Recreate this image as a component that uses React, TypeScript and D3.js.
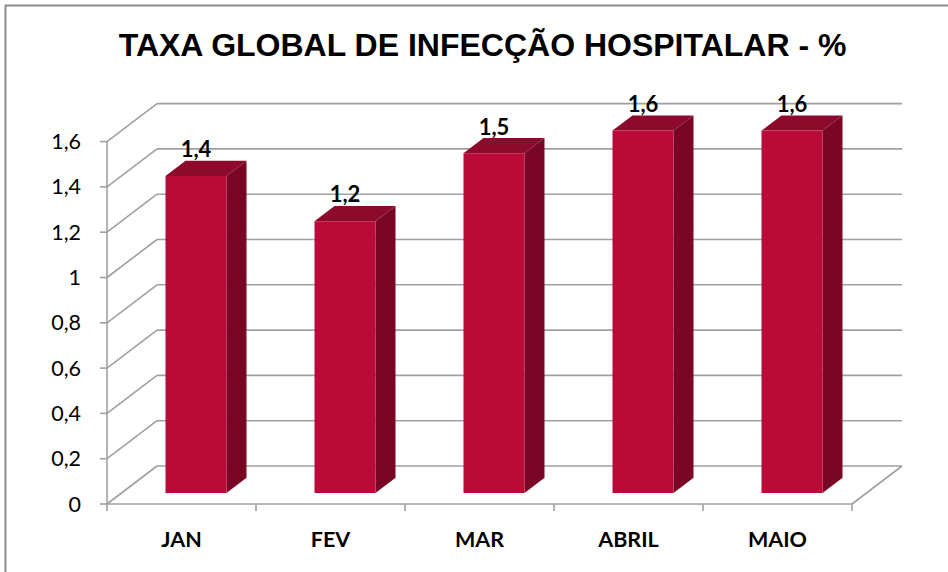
import React from "react";
import * as d3 from "d3";

const categories = ["JAN", "FEV", "MAR", "ABRIL", "MAIO"];
const values = [1.4, 1.2, 1.5, 1.6, 1.6];
const yTicks = [0, 0.2, 0.4, 0.6, 0.8, 1, 1.2, 1.4, 1.6];
const title = "TAXA GLOBAL DE INFECÇÃO HOSPITALAR - %";

const W = 948;
const H = 572;

export default function App() {
  const x0 = 107, x1 = 852;
  const y0 = 504;
  const depthX = 50, depthY = -38;

  const xScale = d3.scaleBand<string>().domain(categories).range([x0, x1]).paddingInner(0).paddingOuter(0);
  const yScale = d3.scaleLinear().domain([0, 1.6]).range([y0, y0 - 362.4]);

  const P = (x: number, v: number, z: number): [number, number] => [x + z * depthX, yScale(v) + z * depthY];
  const fmt = (v: number) => String(Math.round(v * 10) / 10).replace(".", ",");

  const bw = xScale.bandwidth();
  const barW = 61;
  const zf = 0.29, zb = 0.69;

  const grid = "#A0A0A0";
  const poly = (pts: [number, number][]) => pts.map((p) => p.join(",")).join(" ");

  return (
    <svg width={W} height={H} style={{ display: "block", position: "absolute", left: 0, top: 0 }}>
      <rect x={0} y={0} width={W} height={H} fill="#fff" />
      <rect x={5.5} y={5.5} width={W + 20} height={H + 20} fill="none" stroke="#8C8C8C" strokeWidth={2} />
      <text
        x={482.6}
        y={56}
        textAnchor="middle"
        fontFamily="'Liberation Sans', Arial, sans-serif"
        fontWeight="bold"
        fontSize={32}
        fill="#000"
      >
        {title}
      </text>

      {yTicks.map((t) => {
        const a = P(x0, t, 0);
        const b = P(x0, t, 1);
        const c = P(x1, t, 1);
        return (
          <g key={t}>
            <line x1={a[0]} y1={a[1]} x2={b[0]} y2={b[1]} stroke={grid} strokeWidth={1.6} />
            <line x1={b[0]} y1={b[1]} x2={c[0]} y2={c[1]} stroke={grid} strokeWidth={1.6} />
          </g>
        );
      })}
      {(() => {
        const a = P(x1, 0, 0);
        const b = P(x1, 0, 1);
        return <line x1={a[0]} y1={a[1]} x2={b[0]} y2={b[1]} stroke={grid} strokeWidth={1.6} />;
      })()}
      <line x1={x0} y1={yScale(0)} x2={x0} y2={yScale(1.6)} stroke={grid} strokeWidth={1.6} />
      {yTicks.map((t) => (
        <g key={"yt" + t}>
          <line x1={x0 - 7} y1={yScale(t)} x2={x0} y2={yScale(t)} stroke={grid} strokeWidth={1.6} />
          <text
            x={81}
            y={yScale(t) + 7.5}
            textAnchor="end"
            fontFamily="Lato, sans-serif"
            fontSize={21.5}
            fill="#000"
          >
            {fmt(t)}
          </text>
        </g>
      ))}
      <line x1={x0} y1={y0} x2={x1} y2={y0} stroke={grid} strokeWidth={1.6} />
      {d3.range(categories.length + 1).map((i) => {
        const xx = x0 + i * bw;
        return <line key={"xt" + i} x1={xx} y1={y0} x2={xx} y2={y0 + 7} stroke={grid} strokeWidth={1.6} />;
      })}
      {categories.map((c) => (
        <text
          key={"xl" + c}
          x={(xScale(c) as number) + bw / 2}
          y={547}
          textAnchor="middle"
          fontFamily="Lato, sans-serif"
          fontWeight="bold"
          fontSize={21.5}
          fill="#000"
        >
          {c}
        </text>
      ))}

      {categories.map((c, i) => {
        const v = values[i];
        const xl = (xScale(c) as number) + (bw - barW) / 2;
        const xr = xl + barW;
        const fbl = P(xl, 0, zf), fbr = P(xr, 0, zf), ftl = P(xl, v, zf), ftr = P(xr, v, zf);
        const bbr = P(xr, 0, zb), btl = P(xl, v, zb), btr = P(xr, v, zb);
        return (
          <g key={"bar" + c}>
            <polygon points={poly([fbr, bbr, btr, ftr])} fill="#7A0625" />
            <polygon points={poly([ftl, ftr, btr, btl])} fill="#8C0A2C" />
            <polygon points={poly([fbl, fbr, ftr, ftl])} fill="#BA0A38" />
            <text
              x={(ftl[0] + ftr[0]) / 2}
              y={btl[1] - 3.5}
              textAnchor="middle"
              fontFamily="Lato, sans-serif"
              fontWeight="bold"
              fontSize={22}
              fill="#000"
            >
              {fmt(v)}
            </text>
          </g>
        );
      })}
    </svg>
  );
}
